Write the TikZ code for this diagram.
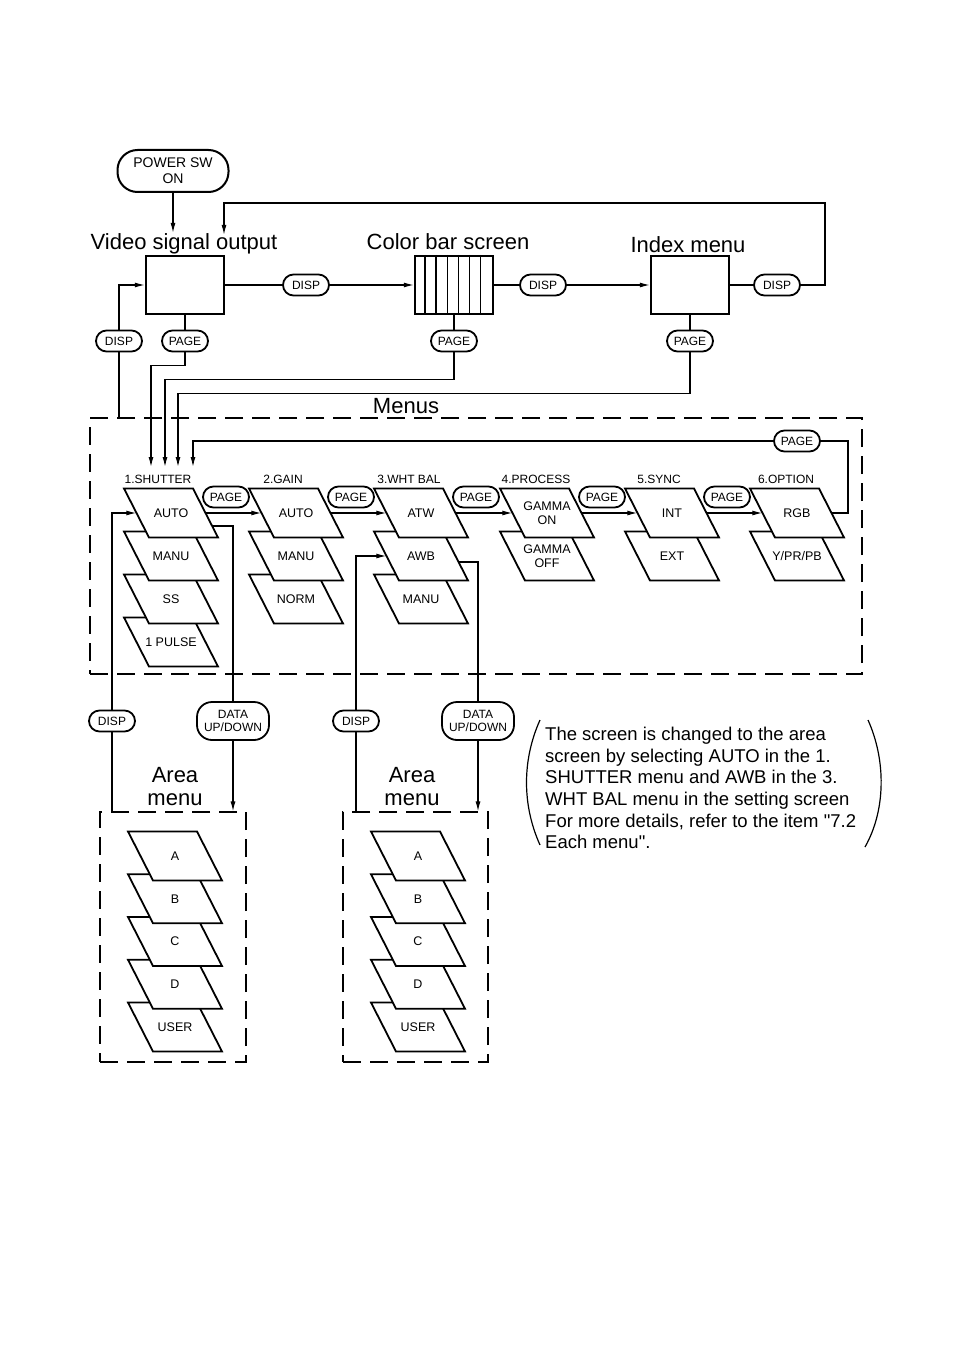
\documentclass[tikz,border=0pt]{standalone}
\usepackage{fontspec}
\setmainfont{Liberation Sans}[Ligatures=TeXOff]
\usetikzlibrary{arrows.meta}

\tikzset{
  wire/.style={line width=1.2pt},
  pill/.style={draw, line width=1.8pt, rounded corners=10.5pt, minimum height=21pt,
    minimum width=46pt, inner xsep=4pt, inner ysep=0pt, font=\fontsize{12}{13}\selectfont},
  datapill/.style={draw, line width=1.8pt, rounded corners=15pt, minimum height=38pt,
    minimum width=72pt, inner sep=0pt, align=center, font=\fontsize{12}{13}\selectfont},
  monitor/.style={draw, line width=2.4pt, minimum width=78pt, minimum height=58pt, inner sep=0pt},
  heading/.style={anchor=base, inner sep=0pt, font=\fontsize{22}{26}\selectfont},
  coltitle/.style={inner sep=0pt, font=\fontsize{12}{13}\selectfont},
  cardtext/.style={minimum width=69pt, minimum height=49pt, inner sep=0pt, align=center,
    font=\fontsize{12.5}{14}\selectfont},
  cardline/.style={fill=white, line width=1.8pt, line join=miter},
  groupbox/.style={draw, line width=1.2pt, dash pattern=on 18pt off 9pt, inner sep=0pt},
}

% menu card: name, x, y, text
\newcommand\menucard[4]{%
  \draw[cardline] ({#2-47},{#3-24.5}) -- ({#2+22},{#3-24.5}) -- ({#2+47},{#3+24.5})
    -- ({#2-22},{#3+24.5}) -- cycle;
  \node[cardtext] (#1) at (#2,#3) {#4};}

\begin{document}
\begin{tikzpicture}[x=1pt, y=-1pt, >={Latex[length=10pt,width=5pt]}]
    \useasboundingbox (0,0) rectangle (954,1351);

    % 1. Power switch and the three screens
    \node[draw, line width=2pt, rounded corners=20pt, minimum width=111pt, minimum height=42pt,
      inner sep=0pt, align=center, font=\fontsize{14}{16}\selectfont] (pwr) at (173,171) {POWER SW\\ON};

    \node[heading] (vtitle) at (184,249) {Video signal output};
    \node[heading] (ctitle) at (448,249) {Color bar screen};
    \node[heading] (ititle) at (688,252) {Index menu};

    \node[monitor] (video) at (185,285) {};
    \node[monitor] (cbar) at (454,285) {};
    \foreach \k in {1,...,6}
        \draw[wire] ([xshift=\k*11.14pt]cbar.north west) -- ([xshift=\k*11.14pt]cbar.south west);
    \node[monitor] (index) at (690,285) {};

    % 2. Keys between the screens
    \node[pill] (disp1) at (306,285) {DISP};
    \node[pill] (disp2) at (543,285) {DISP};
    \node[pill] (disp3) at (777,285) {DISP};
    \node[pill] (disp0) at (119,341) {DISP};
    \node[pill] (page1) at (185,341) {PAGE};
    \node[pill] (page2) at (454,341) {PAGE};
    \node[pill] (page3) at (690,341) {PAGE};

    \draw[wire,->] (pwr) -- (pwr |- vtitle.north);
    \coordinate (loop) at (825,203);
    \draw[wire,->] (disp3.east) -| (loop) -| ([xshift=40pt,yshift=-2pt]vtitle.north);
    \draw[wire] (video) -- (disp1);
    \draw[wire,->] (disp1) -- (cbar);
    \draw[wire] (cbar) -- (disp2);
    \draw[wire,->] (disp2) -- (index);
    \draw[wire] (index) -- (disp3);
    \draw[wire,->] (disp0.north) |- (video.west);
    \draw[wire] (video) -- (page1);
    \draw[wire] (cbar) -- (page2);
    \draw[wire] (index) -- (page3);

    % 3. Menus frame
    \node[groupbox, minimum width=772pt, minimum height=256pt] (menus) at (476,546) {};
    \node[heading] (mtitle) at (406,413) {Menus};
    \draw[wire] (disp0) -- (disp0 |- menus.north);

    % 4. Menu cards (lowest card first)
    \node[coltitle] (t1) at (158,479) {1.SHUTTER};
    \menucard{s4}{171}{642}{1 PULSE}
    \menucard{s3}{171}{599}{SS}
    \menucard{s2}{171}{556}{MANU}
    \menucard{s1}{171}{513}{AUTO}

    \node[coltitle] (t2) at (283,479) {2.GAIN};
    \menucard{g3}{296}{599}{NORM}
    \menucard{g2}{296}{556}{MANU}
    \menucard{g1}{296}{513}{AUTO}

    \node[coltitle] (t3) at (409,479) {3.WHT BAL};
    \menucard{w3}{421}{599}{MANU}
    \menucard{w2}{421}{556}{AWB}
    \menucard{w1}{421}{513}{ATW}

    \node[coltitle] (t4) at (536,479) {4.PROCESS};
    \menucard{p2}{547}{556}{GAMMA\\OFF}
    \menucard{p1}{547}{513}{GAMMA\\ON}

    \node[coltitle] (t5) at (659,479) {5.SYNC};
    \menucard{y2}{672}{556}{EXT}
    \menucard{y1}{672}{513}{INT}

    \node[coltitle] (t6) at (786,479) {6.OPTION};
    \menucard{o2}{797}{556}{Y/PR/PB}
    \menucard{o1}{797}{513}{RGB}

    % 5. PAGE steps through the menus
    \node[pill] (mp1) at (226,497) {PAGE};
    \node[pill] (mp2) at (351,497) {PAGE};
    \node[pill] (mp3) at (476,497) {PAGE};
    \node[pill] (mp4) at (602,497) {PAGE};
    \node[pill] (mp5) at (727,497) {PAGE};
    \node[pill] (mp6) at (797,441) {PAGE};
    \draw[wire,->] (s1.east) -- (g1.west);
    \draw[wire,->] (g1.east) -- (w1.west);
    \draw[wire,->] (w1.east) -- (p1.west);
    \draw[wire,->] (p1.east) -- (y1.west);
    \draw[wire,->] (y1.east) -- (o1.west);

    \coordinate (sin1) at (151,467);
    \coordinate (sin2) at (165,467);
    \coordinate (sin3) at (178,467);
    \coordinate (sin4) at (193,467);
    \coordinate (oloop) at (848,441);
    \draw[wire,->] (page1.south) -- ++(0,13) -| (sin1);
    \draw[wire,->] (page2.south) -- ++(0,27) -| (sin2);
    \draw[wire,->] (page3.south) -- ++(0,41) -| (sin3);
    \draw[wire] (o1.east) -| (oloop) -- (mp6.east);
    \draw[wire,->] (mp6.west) -| (sin4);

    % 6. Area menus
    \node[groupbox, minimum width=146pt, minimum height=250pt] (area1) at (173,937) {};
    \node[groupbox, minimum width=145pt, minimum height=250pt] (area2) at (415.5,937) {};
    \node[heading, anchor=center, align=center, font=\fontsize{22}{23}\selectfont] (atitle1) at (175,787) {Area\\menu};
    \node[heading, anchor=center, align=center, font=\fontsize{22}{23}\selectfont] (atitle2) at (412,787) {Area\\menu};

    \foreach \t/\i in {USER/4, D/3, C/2, B/1, A/0} {
        \menucard{a\i}{175}{856+42.75*\i}{\t}
        \menucard{b\i}{418}{856+42.75*\i}{\t}
    }

    \node[pill] (adisp1) at (112,721) {DISP};
    \node[datapill] (data1) at (233,721) {DATA\\UP/DOWN};
    \node[pill] (adisp2) at (356,721) {DISP};
    \node[datapill] (data2) at (478,721) {DATA\\UP/DOWN};

    \draw[wire,->] (adisp1.north) |- (s1.west);
    \draw[wire] (adisp1) -- (adisp1 |- area1.north);
    \draw[wire] ([xshift=6.6pt,yshift=-13pt]s1.east) -| (data1.north);
    \draw[wire,->] (data1) -- (data1 |- area1.north);

    \draw[wire,->] (adisp2.north) |- (w2.west);
    \draw[wire] (adisp2) -- (adisp2 |- area2.north);
    \draw[wire] ([xshift=3pt,yshift=-6pt]w2.east) -| (data2.north);
    \draw[wire,->] (data2) -- (data2 |- area2.north);

    % 7. Note
    \node[anchor=north west, inner sep=0pt, align=left, font=\fontsize{18.5}{21.6}\selectfont] (note) at (545,727)
        {The screen is changed to the area\\
         screen by selecting AUTO in the 1.\\
         SHUTTER menu and AWB in the 3.\\
         WHT BAL menu in the setting screen\\
         For more details, refer to the item "7.2\\
         Each menu".};
    \draw[wire] (540,720) .. controls (522,760) and (522,805) .. (540,845);
    \draw[wire] (868,720) .. controls (886,760) and (886,810) .. (865,847);
\end{tikzpicture}
\end{document}
